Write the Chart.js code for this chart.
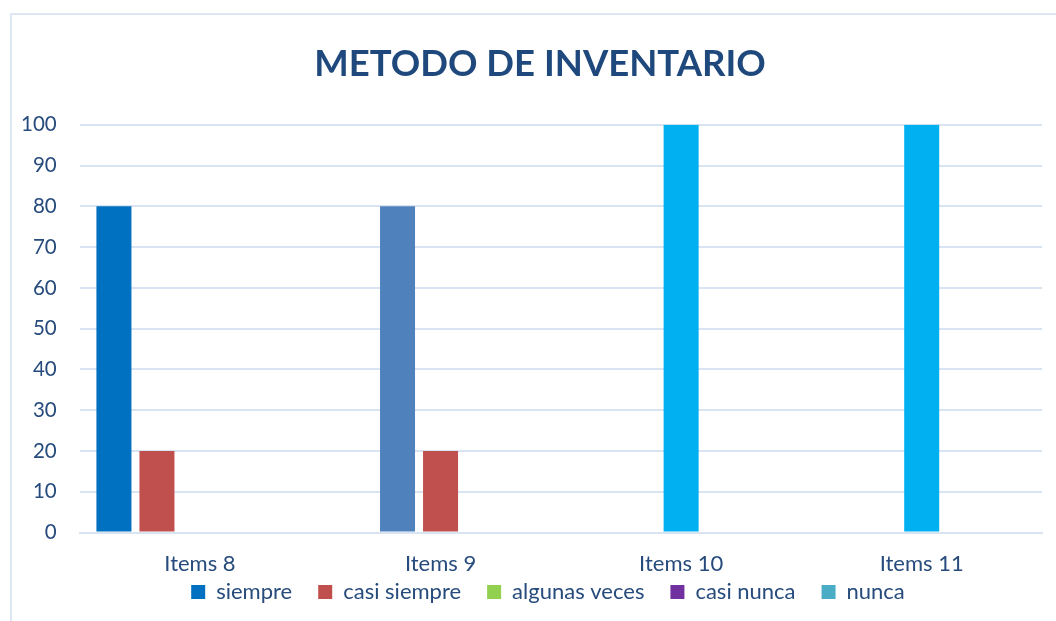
<!DOCTYPE html>
<html>
<head>
<meta charset="utf-8">
<script src="https://cdn.jsdelivr.net/npm/chart.js"></script>
<style>
  html, body { margin: 0; padding: 0; background: #fff; }
  #frame { position: absolute; left: 10px; top: 13px; width: 1060px; height: 620px; border: 2px solid #dde7f3; box-sizing: border-box; }
  #wrap { position: absolute; left: 0; top: 0; width: 1056px; height: 621px; }
</style>
</head>
<body>
<div id="frame"></div>
<div id="wrap"><canvas id="myChart"></canvas></div>
<script>
const ctx = document.getElementById("myChart");

// categories and legend names
const categories = ["Items 8", "Items 9", "Items 10", "Items 11"];
const seriesNames = ["siempre", "casi siempre", "algunas veces", "casi nunca", "nunca"];

// values per bar slot (as placed in the original chart)
const siempreVals = [80, null, null, null];
const casiSiempreVals = [20, 80, null, null];
const algunasVecesVals = [null, 20, 100, 100];
const casiNuncaVals = [null, null, null, null];
const nuncaVals = [null, null, null, null];

const yTicks = [0, 10, 20, 30, 40, 50, 60, 70, 80, 90, 100];

// colours
const legendColors = ["#0070c0", "#c0504d", "#92d050", "#7030a0", "#4bacc6"];
const pointColors = [
  ["#0070c0", "#0070c0", "#0070c0", "#0070c0"],
  ["#c0504d", "#4f81bd", "#c0504d", "#c0504d"],
  ["#92d050", "#c0504d", "#00b0f0", "#00b0f0"],
  ["#7030a0", "#7030a0", "#7030a0", "#7030a0"],
  ["#4bacc6", "#4bacc6", "#4bacc6", "#4bacc6"],
];

const allVals = [siempreVals, casiSiempreVals, algunasVecesVals, casiNuncaVals, nuncaVals];
const textColor = "#264b7c";
const gridColor = "#d9e4f2";

// legend sits close under the axis labels in the original, title centred on the frame
const boxShift = {
  id: "boxShift",
  afterLayout(chart) {
    const lg = chart.legend;
    if (lg) {
      const h = lg.bottom - lg.top;
      lg.top = 555;
      lg.bottom = 555 + h;
      lg.left += 28;
      lg.right += 28;
    }
    const tb = chart.titleBlock;
    if (tb) {
      tb.left += 20;
      tb.right += 20;
    }
  },
};

new Chart(ctx, {
  type: "bar",
  data: {
    labels: categories,
    datasets: allVals.map((vals, i) => ({
      label: seriesNames[i],
      data: vals,
      backgroundColor: pointColors[i],
      borderWidth: 0,
      categoryPercentage: 0.894,
      barPercentage: 0.814,
    })),
  },
  plugins: [boxShift],
  options: {
    responsive: true,
    maintainAspectRatio: false,
    animation: false,
    layout: { padding: { left: -2, right: 14, top: 0, bottom: -16 } },
    plugins: {
      tooltip: { enabled: false },
      title: {
        display: true,
        text: "METODO DE INVENTARIO",
        color: "#1f497d",
        font: { family: "Lato", size: 36.5, weight: "bold" },
        padding: { top: 42, bottom: 39 },
      },
      legend: {
        position: "bottom",
        maxHeight: 50,
        labels: {
          color: textColor,
          font: { family: "Lato", size: 22 },
          boxWidth: 14,
          boxHeight: 14,
          padding: 26,
          generateLabels: (chart) =>
            seriesNames.map((name, i) => ({
              text: name,
              fillStyle: legendColors[i],
              strokeStyle: legendColors[i],
              lineWidth: 0,
              hidden: false,
              datasetIndex: i,
              fontColor: textColor,
            })),
        },
      },
    },
    scales: {
      x: {
        grid: { display: false },
        border: { display: true, color: gridColor, width: 2 },
        ticks: { color: textColor, font: { family: "Lato", size: 22 }, padding: 10 },
      },
      y: {
        min: 0,
        max: 100,
        afterBuildTicks: (axis) => { axis.ticks = yTicks.map((v) => ({ value: v })); },
        grid: { color: gridColor, lineWidth: 2, drawTicks: false },
        border: { display: false },
        ticks: { color: textColor, font: { family: "Lato", size: 20.5 }, padding: 23 },
      },
    },
  },
});
</script>
</body>
</html>
